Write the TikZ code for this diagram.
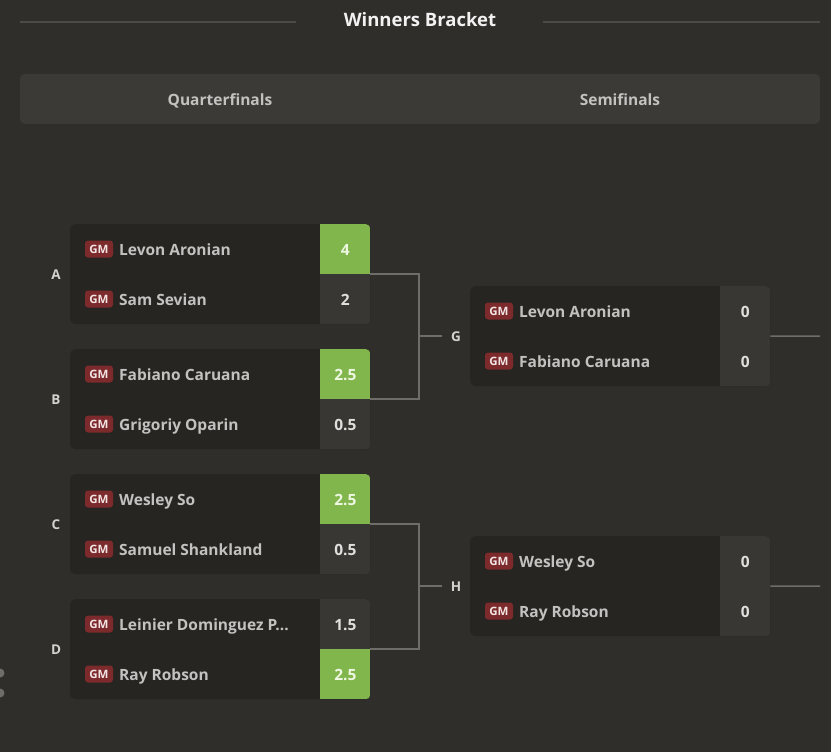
\documentclass[tikz,border=0pt]{standalone}
\usepackage{fontspec}
\setmainfont{Open Sans}
\newcommand\semib{\selectfont\bfseries}
\usetikzlibrary{calc}
\definecolor{bgc}{HTML}{302E2B}
\definecolor{barc}{HTML}{3C3A36}
\definecolor{boxc}{HTML}{262522}
\definecolor{cellc}{HTML}{393734}
\definecolor{greenc}{HTML}{81B64C}
\definecolor{badgec}{HTML}{7C2A2C}
\definecolor{badget}{HTML}{F3E4E4}
\definecolor{ruleC}{HTML}{4D4B48}
\definecolor{linkc}{HTML}{6F6D6A}
\definecolor{namec}{HTML}{C3C2C0}
\definecolor{scorec}{HTML}{E0E0DF}
\definecolor{winc}{HTML}{EEF7E2}
\definecolor{titlec}{HTML}{F2F2F2}
\definecolor{lblc}{HTML}{D2D2D1}
\tikzset{
  matchbox/.style={fill=boxc, rounded corners=5pt, minimum width=300pt, minimum height=100pt, inner sep=0pt, anchor=north west},
  badge/.style={fill=badgec, rounded corners=3pt, minimum width=28pt, minimum height=17pt, inner sep=0pt, text=badget, font=\fontsize{11.5}{12}\selectfont\bfseries},
  pname/.style={anchor=base west, inner sep=0pt, text=namec, font=\fontsize{15.5}{18}\semib},
  pscore/.style={anchor=base, inner sep=0pt, font=\fontsize{15.5}{18}\semib},
  mlabel/.style={anchor=base, inner sep=0pt, text=lblc, font=\fontsize{13.5}{15}\semib},
  link/.style={draw=linkc, line width=1.5pt},
  hdr/.style={anchor=base, inner sep=0pt, text=namec, font=\fontsize{15.5}{18}\semib}
}
\newcommand\drawmatch[8]{%
  \node[matchbox] (#1) at (#2,#3) {};
  \ifnum#8=1 \def\fa{greenc}\def\ta{winc}\else\def\fa{cellc}\def\ta{scorec}\fi
  \ifnum#8=2 \def\fb{greenc}\def\tb{winc}\else\def\fb{cellc}\def\tb{scorec}\fi
  \begin{scope}
    \clip[rounded corners=5pt] (#1.north west) rectangle (#1.south east);
    \fill[\fa] ($(#1.north east)+(-50,0)$) rectangle (#1.east);
    \fill[\fb] ($(#1.east)+(-50,0)$) rectangle (#1.south east);
  \end{scope}
  \node[badge] (#1ba) at ($(#1.north west)+(29,25)$) {GM};
  \node[pname] (#1na) at ($(#1.north west)+(49,31)$) {#4};
  \node[pscore, text=\ta] (#1sa) at ($(#1.north east)+(-25,31)$) {#5};
  \node[badge] (#1bb) at ($(#1.north west)+(29,75)$) {GM};
  \node[pname] (#1nb) at ($(#1.north west)+(49,81)$) {#6};
  \node[pscore, text=\tb] (#1sb) at ($(#1.north east)+(-25,81)$) {#7};
}
\begin{document}
\begin{tikzpicture}[x=1pt,y=-1pt]
\useasboundingbox (0,0) rectangle (831,752);
\fill[bgc] (0,0) rectangle (831,752);
% title
\node[anchor=base, inner sep=0pt, text=titlec, font=\fontsize{18.5}{21}\semib] (title) at (420,27) {Winners Bracket};
\coordinate (tl1) at (20,22);
\coordinate (tr1) at (820,22);
\draw[ruleC, line width=2.6pt] (tl1) -- (296,22);
\draw[ruleC, line width=2.6pt] (543,22) -- (tr1);
% header bar
\fill[barc, rounded corners=5pt] (20,74) rectangle (820,124);
\node[hdr] (qf) at (220,106) {Quarterfinals};
\node[hdr] (sf) at (620,106) {Semifinals};
% quarterfinal matches
\drawmatch{A}{70}{224}{Levon Aronian}{4}{Sam Sevian}{2}{1}
\drawmatch{B}{70}{349}{Fabiano Caruana}{2.5}{Grigoriy Oparin}{0.5}{1}
\drawmatch{C}{70}{474}{Wesley So}{2.5}{Samuel Shankland}{0.5}{1}
\drawmatch{D}{70}{599}{Leinier Dominguez P...}{1.5}{Ray Robson}{2.5}{2}
\node[mlabel] (Alab) at (56,279) {A};
\node[mlabel] (Blab) at (56,404) {B};
\node[mlabel] (Clab) at (56,529) {C};
\node[mlabel] (Dlab) at (56,654) {D};
% semifinal matches
\drawmatch{G}{470}{286}{Levon Aronian}{0}{Fabiano Caruana}{0}{0}
\drawmatch{H}{470}{536}{Wesley So}{0}{Ray Robson}{0}{0}
\node[mlabel] (Glab) at (456,341) {G};
\node[mlabel] (Hlab) at (456,591) {H};
% connectors
\coordinate (gj) at (419,336);
\coordinate (hj) at (419,586);
\coordinate (gend) at (442,336);
\coordinate (hend) at (442,586);
\draw[link] (A.east) -| (gj) |- (B.east);
\draw[link] (gj) -- (gend);
\draw[link] (C.east) -| (hj) |- (D.east);
\draw[link] (hj) -- (hend);
\coordinate (gout) at (820,336);
\coordinate (hout) at (820,586);
\draw[link] (G.east) -- (gout);
\draw[link] (H.east) -- (hout);
% partial scroll control at left edge
\fill[linkc] (0,673) circle (4.5pt);
\fill[linkc] (0,693) circle (4.5pt);
\end{tikzpicture}
\end{document}
